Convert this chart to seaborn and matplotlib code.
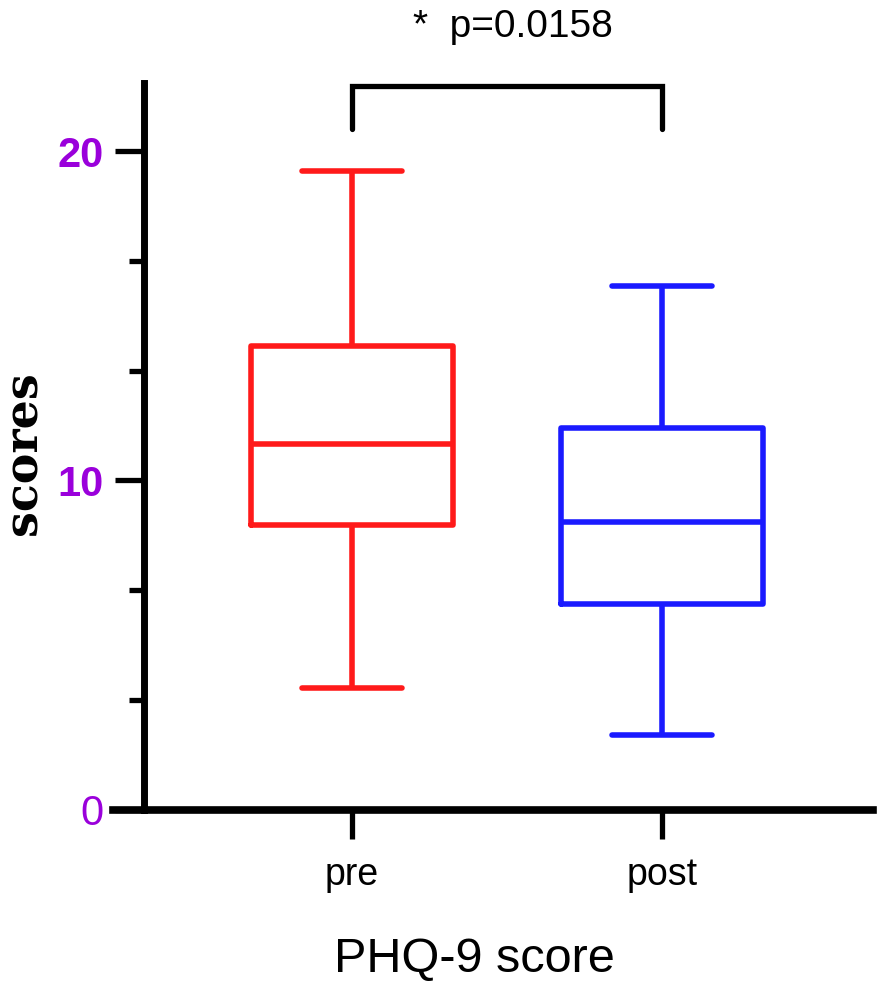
import numpy as np
import pandas as pd
import matplotlib
matplotlib.use("Agg")
import matplotlib.pyplot as plt
import seaborn as sns
from matplotlib.ticker import MultipleLocator

# five-number summaries (min, q1, median, q3, max)
groups = ["pre", "post"]
pre_scores = [3.7, 8.65, 11.1, 14.1, 19.4]
post_scores = [2.25, 6.25, 8.75, 11.6, 15.9]
box_colors = ["#ff1a1a", "#1a1aff"]
p_text = "*  p=0.0158"
y_major = [0, 10, 20]

df = pd.DataFrame({
    "time": ["pre"] * len(pre_scores) + ["post"] * len(post_scores),
    "score": pre_scores + post_scores,
})

sns.set_style("ticks")
plt.rcParams["font.family"] = ["Liberation Sans", "DejaVu Sans"]
plt.rcParams["text.color"] = "black"
plt.rcParams["axes.labelcolor"] = "black"
plt.rcParams["xtick.labelcolor"] = "black"

fig = plt.figure(figsize=(8.86, 9.86), dpi=100)
ax = fig.add_axes([113 / 886, 1 - 809.5 / 986, 760 / 886, (809.5 - 83) / 986])

sns.boxplot(data=df, x="time", y="score", hue="time", order=groups,
            hue_order=groups, palette=box_colors, fill=False, width=0.65,
            linewidth=4, whis=(0, 100), legend=False, ax=ax)

ax.set_xlim(-0.771, 1.681)
ax.set_ylim(0, 22.08)

# spines: y axis offset to the right of the x axis start (prism style)
for side in ["top", "right"]:
    ax.spines[side].set_visible(False)
ax.spines["left"].set_position(("axes", 0.041))
ax.spines["left"].set_linewidth(5)
ax.spines["bottom"].set_linewidth(5.5)
ax.spines["left"].set_color("black")
ax.spines["bottom"].set_color("black")

ax.set_yticks(y_major)
ax.yaxis.set_minor_locator(MultipleLocator(10 / 3))
ax.tick_params(axis="y", which="major", length=21, width=3.8, pad=8,
               labelsize=30, labelcolor="#9a00db", color="black")
ax.tick_params(axis="y", which="minor", length=10.5, width=3.8, color="black")
ax.tick_params(axis="x", which="major", length=21, width=3.8, pad=13,
               labelsize=27, color="black", labelcolor="black")
for lab in ax.get_yticklabels():
    lab.set_fontweight("bold")
ax.get_yticklabels()[0].set_fontweight("normal")

ax.set_xlabel("PHQ-9 score", fontsize=35, color="black")
ax.xaxis.set_label_coords(0.476, -0.175)
ax.set_ylabel("scores", fontsize=33, fontweight="bold", family="DejaVu Serif",
              color="black")
ax.yaxis.set_label_coords(-0.088, 0.49)

# significance bracket
ax.plot([0, 0, 1, 1], [20.68, 21.99, 21.99, 20.68], color="black", lw=3.8,
        clip_on=False, solid_joinstyle="miter")
ax.text(0.52, 23.48, p_text, ha="center", va="baseline", fontsize=28,
        color="black")

fig.savefig("out.png", dpi=100, facecolor="white")
